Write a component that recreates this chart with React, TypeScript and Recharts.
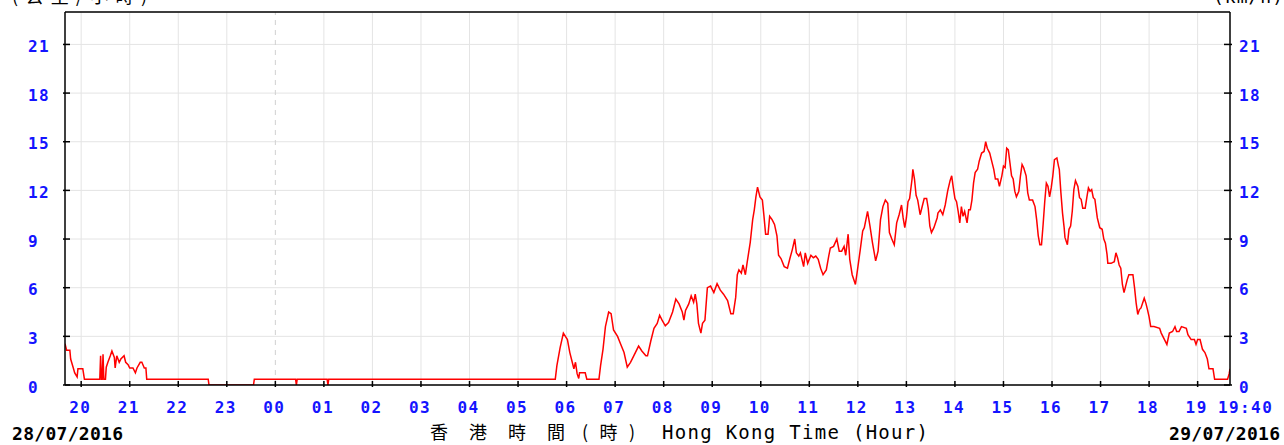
import React from 'react';
import { LineChart, Line, XAxis, YAxis, CartesianGrid, ReferenceLine } from 'recharts';

// minutes elapsed since 28/07/2016 19:40
const minutes = [
  0, 2, 6, 7, 10, 12, 15, 16, 22, 24, 43, 44, 45, 46, 47, 48, 50, 51, 53, 56, 58, 61, 62, 64, 67, 69, 73, 75, 78, 80,
  84, 87, 89, 93, 95, 98, 100, 101, 177, 178, 233, 234, 285, 286, 287, 324, 325, 326,
  606, 608, 612, 616, 621, 624, 627, 629, 631, 633, 635, 636, 643, 645, 660, 662, 665, 668, 672, 675, 678, 683,
  687, 691, 695, 699, 703, 709, 713, 718, 720, 724, 728, 732, 735, 738, 742, 746, 751, 755, 759, 763, 765, 767,
  771, 774, 777, 779, 781, 783, 786, 788, 791, 794, 798, 802, 806, 810, 814, 819, 823, 826, 829, 831, 833, 836,
  838, 841, 843, 847, 850, 852, 854, 856, 859, 862, 864, 866, 869, 871, 874, 877, 880, 882, 885, 889, 893, 896,
  899, 902, 904, 907, 909, 913, 915, 918, 922, 925, 928, 931, 934, 937, 941, 944, 946, 950, 954, 957, 960, 963,
  965, 968, 970, 973, 977, 979, 983, 986, 988, 992, 995, 998, 1002, 1005, 1008, 1011, 1014, 1017, 1019, 1022,
  1025, 1028, 1031, 1034, 1036, 1038, 1040, 1042, 1044, 1047, 1048, 1050, 1052, 1054, 1057, 1059, 1062, 1065,
  1067, 1069, 1071, 1074, 1078, 1079, 1082, 1085, 1088, 1091, 1094, 1096, 1098, 1100, 1102, 1104, 1106, 1108,
  1110, 1112, 1115, 1117, 1119, 1121, 1123, 1125, 1128, 1130, 1133, 1136, 1138, 1140, 1143, 1146, 1148, 1150,
  1153, 1155, 1158, 1160, 1162, 1164, 1166, 1168, 1170, 1172, 1174, 1176, 1179, 1181, 1183, 1185, 1188, 1190,
  1192, 1196, 1199, 1201, 1203, 1205, 1207, 1209, 1211, 1213, 1215, 1217, 1219, 1221, 1223, 1226, 1228, 1229,
  1231, 1233, 1235, 1236, 1239, 1241, 1243, 1245, 1247, 1249, 1252, 1254, 1256, 1258, 1261, 1263, 1265, 1267,
  1269, 1271, 1273, 1276, 1279, 1282, 1284, 1286, 1288, 1289, 1293, 1297, 1299, 1301, 1303, 1305, 1307, 1309,
  1311, 1313, 1315, 1320, 1322, 1324, 1326, 1328, 1330, 1332, 1334, 1336, 1338, 1340, 1342, 1346, 1353, 1355,
  1359, 1362, 1365, 1369, 1372, 1374, 1377, 1380, 1386, 1388, 1392, 1396, 1398, 1400, 1403, 1406, 1409, 1412,
  1414, 1419, 1421, 1437, 1439, 1440,
];

// wind speed, km/h
const speeds = [
  2.55, 2.15, 2.15, 1.6, 1.1, 0.75, 0.5, 1.0, 1.0, 0.36, 0.36, 1.8, 0.36, 0.36, 1.9, 0.36, 0.36, 1.1, 1.4, 1.8, 2.1, 1.7, 1.05, 1.8, 1.4, 1.6, 1.8, 1.4, 1.25, 1.05,
  1.05, 0.75, 1.05, 1.4, 1.4, 1.05, 1.05, 0.36, 0.36, 0, 0, 0.36, 0.36, 0, 0.36, 0.36, 0, 0.36,
  0.36, 1.2, 2.3, 3.2, 2.8, 2.0, 1.4, 1.0, 1.4, 0.7, 0.4, 0.75, 0.75, 0.36, 0.36, 1.2, 2.2, 3.6, 4.5, 4.4, 3.4, 3.0,
  2.5, 2.0, 1.1, 1.4, 1.8, 2.4, 2.1, 1.8, 1.8, 2.7, 3.5, 3.8, 4.3, 4.0, 3.65, 3.85, 4.5, 5.3, 5.0, 4.5, 4.0, 4.6,
  5.0, 5.5, 5.1, 5.6, 5.0, 3.8, 3.2, 3.8, 4.0, 6.0, 6.1, 5.7, 6.25, 5.85, 5.6, 5.2, 4.4, 4.4, 5.4, 6.8, 7.1, 6.9,
  7.4, 6.8, 7.5, 8.8, 10.2, 10.8, 11.6, 12.2, 11.6, 11.4, 10.4, 9.3, 9.3, 10.4, 10.2, 9.9, 9.2, 8.0, 7.8, 7.3, 7.2, 7.8,
  8.35, 9.0, 8.15, 7.95, 8.15, 7.3, 8.15, 7.5, 8.0, 7.85, 7.95, 7.75, 7.2, 6.8, 7.1, 7.95, 8.45, 8.55, 9.0, 8.25, 8.25, 8.55,
  8.0, 9.3, 7.75, 6.8, 6.2, 6.9, 8.35, 9.5, 9.7, 10.7, 9.8, 8.8, 7.65, 8.25, 10.2, 11.0, 11.4, 11.2, 9.4, 9.0,
  8.65, 10.0, 10.5, 11.1, 10.3, 9.7, 10.3, 11.3, 11.5, 12.7, 13.3, 12.7, 11.7, 11.4, 10.5, 10.9, 11.5, 11.5,
  10.9, 9.8, 9.4, 9.7, 10.3, 10.6, 10.8, 10.5, 11.1, 11.95, 12.6, 12.9, 12.15, 11.5, 11.3, 10.7, 10.0, 11.0,
  10.4, 10.7, 10.0, 10.8, 10.8, 11.4, 12.45, 13.1, 13.3, 13.8, 14.3, 14.4, 15.0, 14.6, 14.3, 13.7, 13.3, 12.7,
  12.7, 12.25, 12.9, 13.5, 13.4, 14.6, 14.5, 13.7, 12.9, 12.7, 11.95, 11.6, 11.95, 12.9, 13.6, 13.4, 12.9, 11.85,
  11.4, 11.4, 11.0, 10.2, 9.2, 8.65, 8.65, 9.9, 11.3, 12.45, 12.25, 11.6, 12.15, 12.9, 13.9, 14.0, 13.5, 13.3,
  11.85, 10.6, 9.7, 9.1, 8.65, 9.6, 9.8, 10.7, 12.05, 12.6, 12.25, 11.55, 11.45, 10.9, 10.9, 11.55, 12.15, 11.95,
  12.05, 11.55, 11.45, 10.3, 9.7, 9.6, 9.0, 8.75, 8.05, 7.5, 7.5, 7.6, 8.15, 7.85, 7.4, 7.2, 6.2, 5.7,
  6.1, 6.5, 6.8, 6.8, 6.0, 5.05, 4.35, 4.65, 4.75, 5.05, 5.35, 5.05, 4.65, 4.2, 3.6, 3.6, 3.5, 3.2,
  2.8, 2.5, 3.2, 3.3, 3.6, 3.3, 3.3, 3.6, 3.5, 3.1, 2.8, 2.8, 2.5, 2.8, 2.8, 2.2, 2.0, 1.6,
  1.0, 1.0, 0.35, 0.35, 0.7, 1.0,
];

const hourTicks = [
  20, 80, 140, 200, 260, 320, 380, 440, 500, 560, 620, 680, 740, 800, 860, 920, 980, 1040, 1100, 1160, 1220, 1280,
  1340, 1400, 1440,
];
const hourLabels = [
  '20', '21', '22', '23', '00', '01', '02', '03', '04', '05', '06', '07', '08', '09', '10', '11', '12', '13', '14',
  '15', '16', '17', '18', '19', '19:40',
];
const speedTicks = [0, 3, 6, 9, 12, 15, 18, 21];
const speedMax = 23;
const startDate = '28/07/2016';
const endDate = '29/07/2016';
const axisTitleZh = '香 港 時 間';
const axisTitleZhUnit = '(時)';
const axisTitleEn = 'Hong Kong Time (Hour)';
const unitZh = '(公里/小時)';
const unitEn = '(km/h)';

const data = minutes.map((t, i) => ({ t, v: speeds[i] }));

const BLUE = '#1414ff';
const MONO = '"DejaVu Sans Mono", "Liberation Mono", monospace';
const CJK = '"Noto Sans CJK TC", sans-serif';
const GRID = '#e4e4e4';

function XTick(props: any) {
  const { x, y, payload } = props;
  const i = hourTicks.indexOf(payload.value);
  const label = hourLabels[i];
  const last = i === hourLabels.length - 1;
  return (
    <g>
      {!last && <line x1={x} x2={x} y1={y} y2={y - 6} stroke="#000" strokeWidth={1.5} />}
      <text
        x={last ? x - 12 : x - 1}
        y={y + 26}
        textAnchor={last ? 'start' : 'middle'}
        fill={BLUE}
        fontFamily={MONO}
        fontWeight="bold"
        fontSize={16}
        letterSpacing={1.4}
      >
        {label}
      </text>
    </g>
  );
}

function YTickLeft(props: any) {
  const { x, y, payload } = props;
  return (
    <g>
      <line x1={x} x2={x + 7} y1={y} y2={y} stroke="#000" strokeWidth={1.5} />
      <text x={x - 35} y={y + 7.5} textAnchor="start" fill={BLUE} fontFamily={MONO} fontWeight="bold" fontSize={16} letterSpacing={1.4}>
        {payload.value}
      </text>
    </g>
  );
}

function YTickRight(props: any) {
  const { x, y, payload } = props;
  return (
    <g>
      <line x1={x} x2={x - 8} y1={y} y2={y} stroke="#000" strokeWidth={1.5} />
      <text x={x + 7} y={y + 7.5} textAnchor="start" fill={BLUE} fontFamily={MONO} fontWeight="bold" fontSize={16} letterSpacing={1.4}>
        {payload.value}
      </text>
    </g>
  );
}

export default function App() {
  return (
    <div style={{ position: 'relative', width: 1284, height: 445, background: '#fff', overflow: 'hidden' }}>
      <style>{'body{margin:0}'}</style>
      <LineChart width={1284} height={445} data={data} margin={{ top: 12, right: 0, bottom: 30, left: 0 }}>
        <CartesianGrid yAxisId="left" vertical={false} stroke={GRID} strokeWidth={1} />
        {hourTicks.slice(0, hourTicks.length - 1).map((t, i) => (
          <ReferenceLine
            key={t}
            yAxisId="left"
            x={t}
            stroke={hourLabels[i] === '00' ? '#d0d0d0' : GRID}
            strokeWidth={1}
            strokeDasharray={hourLabels[i] === '00' ? '5 5' : undefined}
          />
        ))}
        <XAxis
          dataKey="t"
          type="number"
          domain={[0, 1440]}
          ticks={hourTicks}
          interval={0}
          tickSize={0}
          tickLine={false}
          tick={<XTick />}
          axisLine={{ stroke: '#000', strokeWidth: 1.5 }}
          height={30}
          allowDataOverflow
        />
        <YAxis
          yAxisId="left"
          domain={[0, speedMax]}
          ticks={speedTicks}
          interval={0}
          tickSize={0}
          tickLine={false}
          tick={<YTickLeft />}
          axisLine={{ stroke: '#000', strokeWidth: 1.5 }}
          width={65}
          allowDataOverflow
        />
        <YAxis
          yAxisId="right"
          orientation="right"
          domain={[0, speedMax]}
          ticks={speedTicks}
          interval={0}
          tickSize={0}
          tickLine={false}
          tick={<YTickRight />}
          axisLine={{ stroke: '#000', strokeWidth: 1.5 }}
          width={54}
          allowDataOverflow
        />
        <ReferenceLine yAxisId="left" y={speedMax} stroke="#000" strokeWidth={1.5} />
        <Line
          yAxisId="left"
          type="linear"
          dataKey="v"
          stroke="#ff0000"
          strokeWidth={1.5}
          dot={false}
          activeDot={false}
          isAnimationActive={false}
        />
      </LineChart>
      <svg width={1284} height={445} style={{ position: 'absolute', left: 0, top: 0, pointerEvents: 'none' }}>
        <text x={12} y={3} fontFamily={CJK} fontSize={18} textLength={135} lengthAdjust="spacing" fill="#000">
          {unitZh}
        </text>
        <text x={1213} y={3} fontFamily={MONO} fontSize={18} textLength={70} lengthAdjust="spacing" fill="#000">
          {unitEn}
        </text>
        <text x={12} y={440} fontFamily={MONO} fontWeight="bold" fontSize={18} textLength={111} lengthAdjust="spacing" fill="#000">
          {startDate}
        </text>
        <text x={1280} y={440} textAnchor="end" fontFamily={MONO} fontWeight="bold" fontSize={18} textLength={111} lengthAdjust="spacing" fill="#000">
          {endDate}
        </text>
        <text x={430} y={439} fontFamily={CJK} fontSize={18} textLength={135} lengthAdjust="spacing" fill="#000">
          {axisTitleZh}
        </text>
        <text x={582} y={439} fontFamily={CJK} fontSize={18} textLength={53} lengthAdjust="spacing" fill="#000">
          {axisTitleZhUnit}
        </text>
        <text x={662} y={439} fontFamily={MONO} fontSize={19} textLength={266} lengthAdjust="spacing" fill="#000">
          {axisTitleEn}
        </text>
      </svg>
    </div>
  );
}
